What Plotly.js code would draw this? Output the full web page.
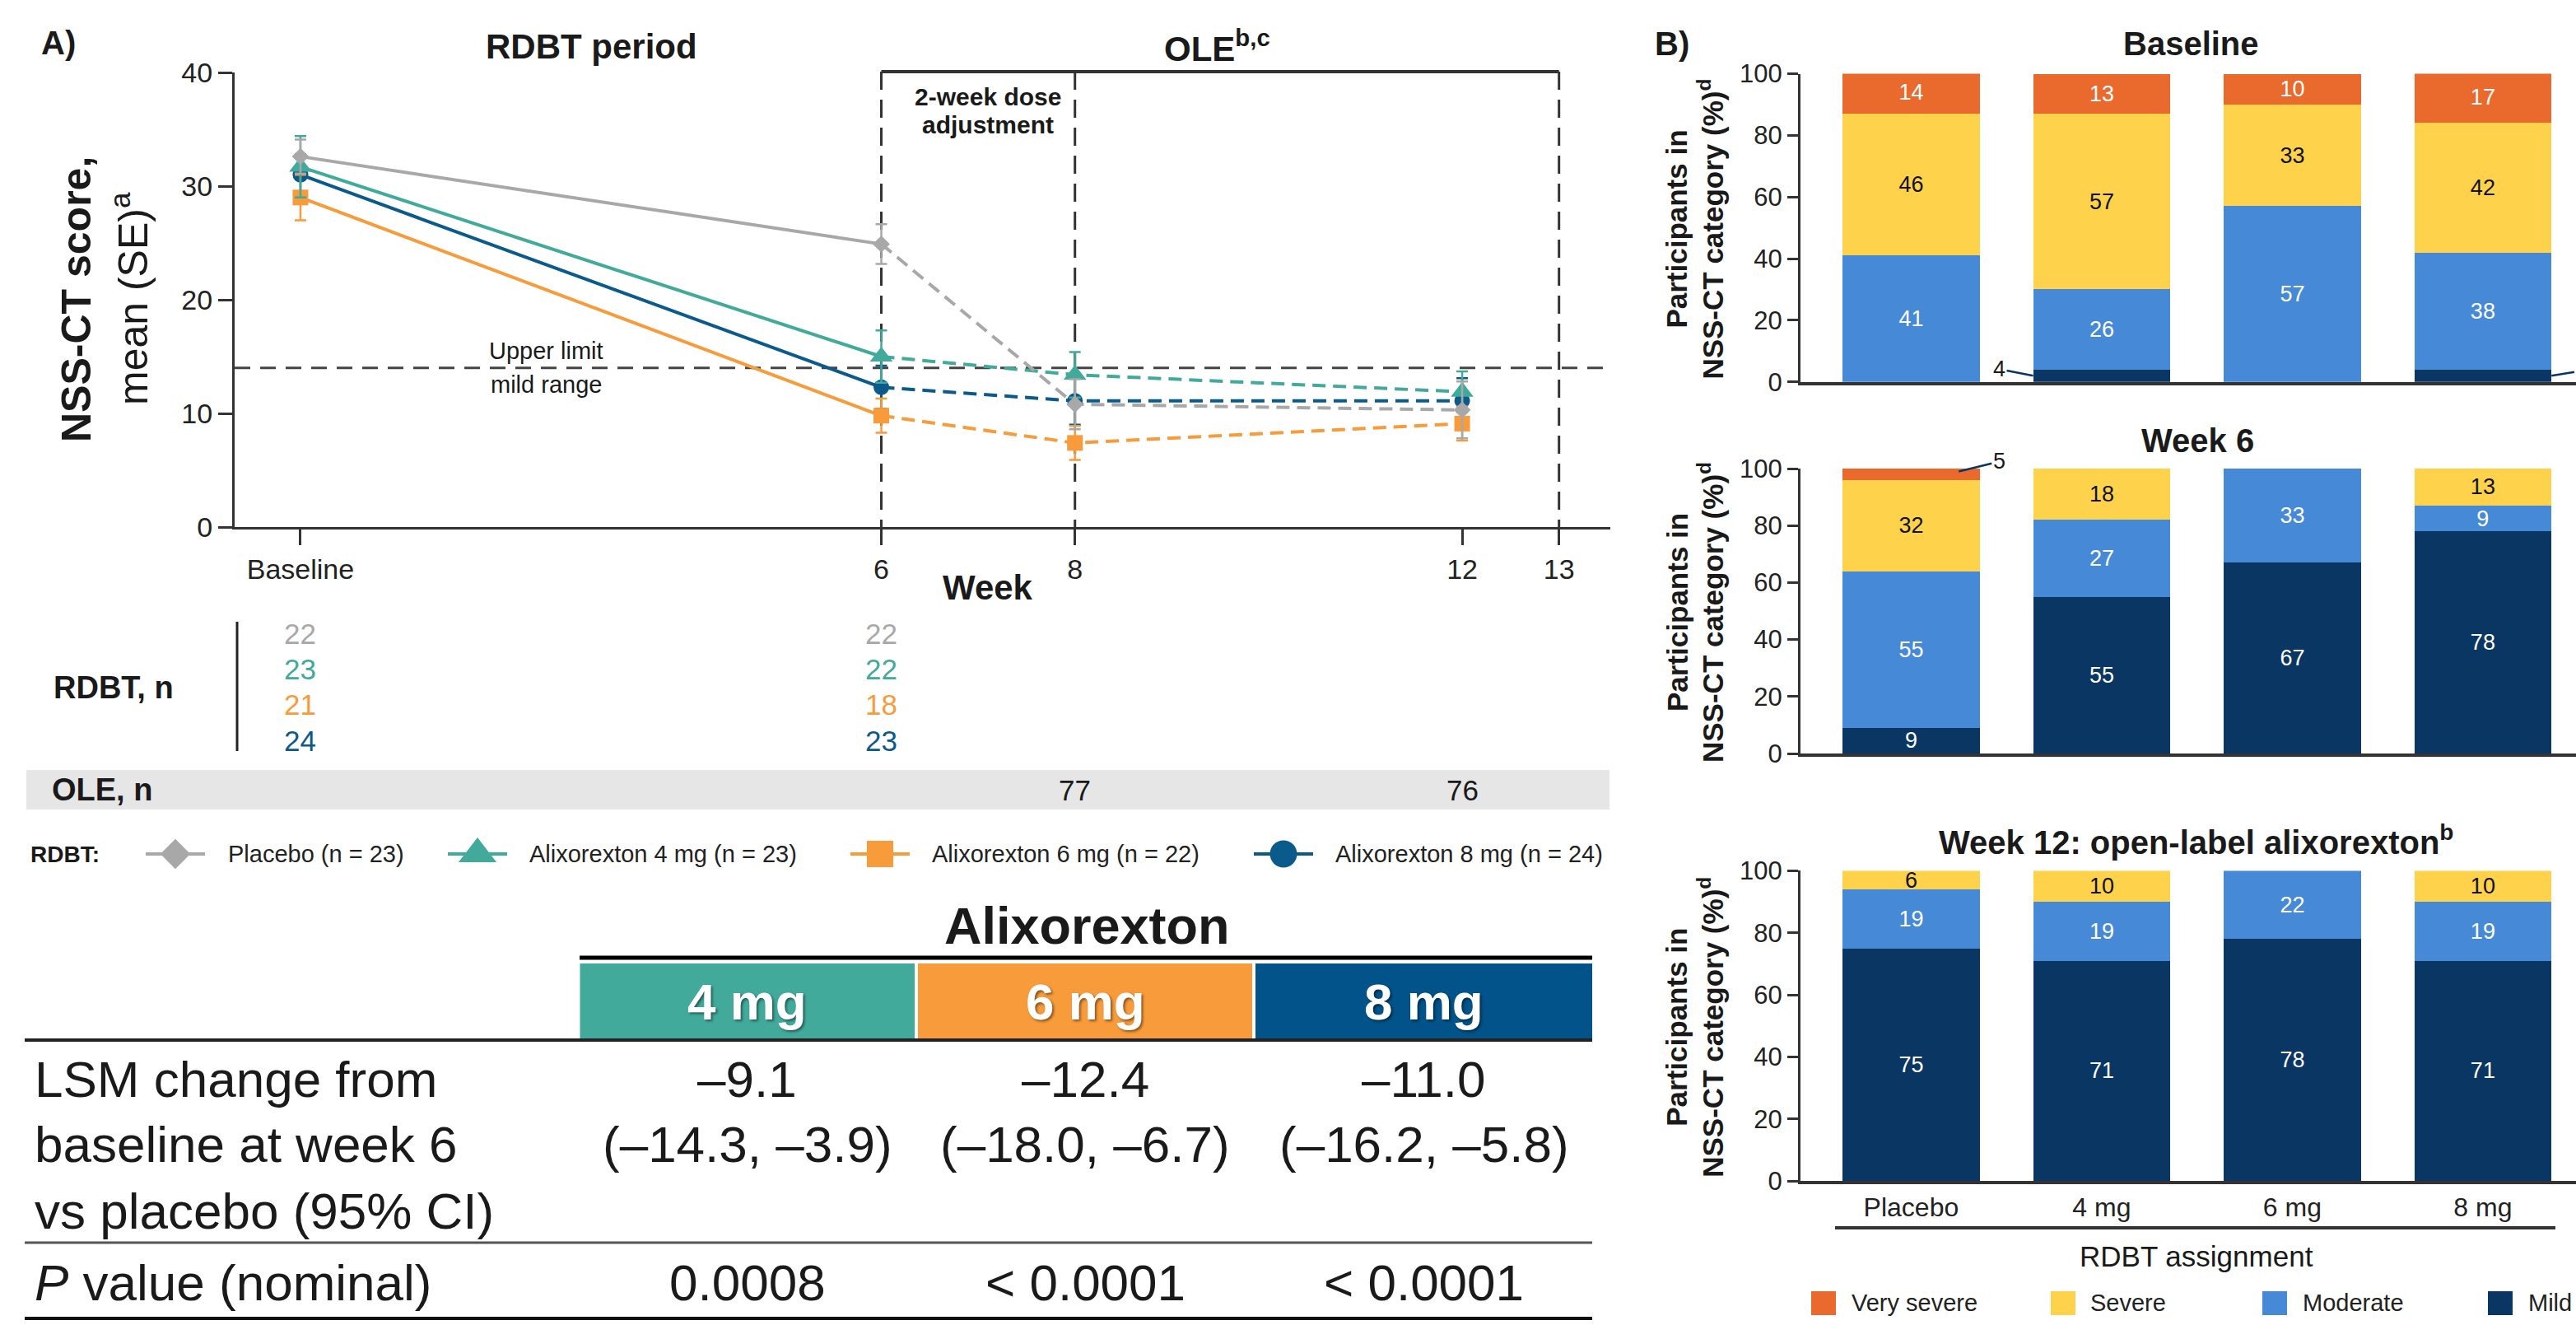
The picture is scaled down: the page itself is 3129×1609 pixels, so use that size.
<!DOCTYPE html>
<html><head><meta charset="utf-8">
<script src="https://cdn.plot.ly/plotly-3.0.1.min.js"></script>
<style>html,body{margin:0;padding:0;background:#fff;} #chart{width:3129px;height:1609px;}</style>
</head><body><div id="chart"></div>
<script>
const W = 3129, H = 1609;
const FONT = 'Liberation Sans, Arial, Helvetica, sans-serif';
const INK = '#1a1a1a';

// ---------- Panel A data ----------
const weeks = [0, 6, 8, 12];
const weekTicks = [0, 6, 8, 12, 13];
const weekTickText = ['Baseline', '6', '8', '12', '13'];
const placeboMean = [32.6, 24.9, 10.8, 10.3];
const placeboSE = [1.5, 1.75, 2.2, 2.5];
const mg4Mean = [31.7, 15.0, 13.4, 11.9];
const mg4SE = [2.7, 2.3, 2.0, 1.8];
const mg6Mean = [29.0, 9.8, 7.4, 9.1];
const mg6SE = [2.0, 1.5, 1.5, 1.5];
const mg8Mean = [31.0, 12.3, 11.1, 11.1];
const mg8SE = [1.8, 1.9, 2.1, 2.0];
const upperLimitMild = 14;
const periodLines = [6, 8, 13];
const oleStart = 6, oleEnd = 13;

const nWeeks = [0, 6];
const nPlacebo = [22, 22];
const n4mg = [23, 22];
const n6mg = [21, 18];
const n8mg = [24, 23];
const oleWeeks = [8, 12];
const oleN = [77, 76];

const seriesNames = ['Placebo (n = 23)', 'Alixorexton 4 mg (n = 23)', 'Alixorexton 6 mg (n = 22)', 'Alixorexton 8 mg (n = 24)'];

// ---------- Table data ----------
const doseLabels = ['4 mg', '6 mg', '8 mg'];
const lsmChange = [-9.1, -12.4, -11.0];
const ciLower = [-14.3, -18.0, -16.2];
const ciUpper = [-3.9, -6.7, -5.8];
const pValues = ['0.0008', '< 0.0001', '< 0.0001'];

// ---------- Panel B data ----------
const groups = ['Placebo', '4 mg', '6 mg', '8 mg'];
const severityNames = ['Very severe', 'Severe', 'Moderate', 'Mild'];
const baseMild = [0, 4, 0, 4];
const baseModerate = [41, 26, 57, 38];
const baseSevere = [46, 57, 33, 42];
const baseVerySevere = [14, 13, 10, 17];
const wk6Mild = [9, 55, 67, 78];
const wk6Moderate = [55, 27, 33, 9];
const wk6Severe = [32, 18, 0, 13];
const wk6VerySevere = [5, 0, 0, 0];
const wk12Mild = [75, 71, 78, 71];
const wk12Moderate = [19, 19, 22, 19];
const wk12Severe = [6, 10, 0, 10];
const wk12VerySevere = [0, 0, 0, 0];

// ---------- colours ----------
const COL = {placebo: '#A8A8A8', mg4: '#41AA9B', mg6: '#F79B3B', mg8: '#0B5A8C'};
const HEAD = ['#41AA9B', '#F79B3B', '#015389'];
const SEV = {verySevere: '#EA692D', severe: '#FED24B', moderate: '#4689D6', mild: '#0A3663'};

const fmt = v => (v < 0 ? '\u2013' : '') + Math.abs(v).toFixed(1);
const MIN_INSIDE = 6;

const traces = [];

// ---------- Panel A traces ----------
const series = [
  {mean: mg8Mean, se: mg8SE, color: COL.mg8, symbol: 'circle', size: 19},
  {mean: mg6Mean, se: mg6SE, color: COL.mg6, symbol: 'square', size: 19},
  {mean: mg4Mean, se: mg4SE, color: COL.mg4, symbol: 'triangle-up', size: 24},
  {mean: placeboMean, se: placeboSE, color: COL.placebo, symbol: 'diamond', size: 16}
];
series.forEach(s => {
  traces.push({type: 'scatter', mode: 'lines', x: weeks.slice(0, 2), y: s.mean.slice(0, 2),
    line: {color: s.color, width: 4}, xaxis: 'x', yaxis: 'y', showlegend: false, hoverinfo: 'skip'});
  traces.push({type: 'scatter', mode: 'lines', x: weeks.slice(1), y: s.mean.slice(1),
    line: {color: s.color, width: 4, dash: '16px,9px'}, xaxis: 'x', yaxis: 'y', showlegend: false, hoverinfo: 'skip'});
});
series.forEach(s => {
  traces.push({type: 'scatter', mode: 'markers', x: weeks, y: s.mean,
    marker: {symbol: s.symbol, size: s.size, color: s.color, line: {width: 0}},
    error_y: {type: 'data', array: s.se, visible: true, color: s.color, thickness: 2.5, width: 7},
    xaxis: 'x', yaxis: 'y', showlegend: false, hoverinfo: 'skip', cliponaxis: false});
});

// ---------- Panel B traces ----------
const periods = [
  {ax: '2', mild: baseMild, moderate: baseModerate, severe: baseSevere, verySevere: baseVerySevere},
  {ax: '3', mild: wk6Mild, moderate: wk6Moderate, severe: wk6Severe, verySevere: wk6VerySevere},
  {ax: '4', mild: wk12Mild, moderate: wk12Moderate, severe: wk12Severe, verySevere: wk12VerySevere}
];
const sevOrder = [
  {key: 'mild', text: '#ffffff'},
  {key: 'moderate', text: '#ffffff'},
  {key: 'severe', text: '#111111'},
  {key: 'verySevere', text: '#ffffff'}
];
periods.forEach(p => sevOrder.forEach(s => {
  const vals = p[s.key];
  traces.push({type: 'bar', x: groups, y: vals, width: 0.72,
    marker: {color: SEV[s.key], line: {width: 0}},
    text: vals.map(v => String(v)),
    textposition: vals.map(v => v >= MIN_INSIDE ? 'inside' : 'none'),
    insidetextanchor: 'middle', textangle: 0,
    textfont: {family: FONT, size: 27, color: s.text},
    xaxis: 'x' + p.ax, yaxis: 'y' + p.ax, showlegend: false, hoverinfo: 'skip'});
}));

// ---------- legend symbols (pixel overlay axis) ----------
const legSymX = [213, 580, 1069, 1559];
const legTextX = [275, 641, 1130, 1620];
const legY = 1037;
const legSeries = [
  {color: COL.placebo, symbol: 'diamond', size: 28},
  {color: COL.mg4, symbol: 'triangle-up', size: 40},
  {color: COL.mg6, symbol: 'square', size: 32},
  {color: COL.mg8, symbol: 'circle', size: 33}
];
legSeries.forEach((s, i) => {
  traces.push({type: 'scatter', mode: 'lines', x: [legSymX[i] - 36, legSymX[i] + 36], y: [legY, legY],
    line: {color: s.color, width: 4}, xaxis: 'x5', yaxis: 'y5', showlegend: false, hoverinfo: 'skip'});
  traces.push({type: 'scatter', mode: 'markers', x: [legSymX[i]], y: [legY],
    marker: {symbol: s.symbol, size: s.size, color: s.color}, xaxis: 'x5', yaxis: 'y5', showlegend: false, hoverinfo: 'skip'});
});

// ---------- annotations & shapes ----------
const annotations = [];
const shapes = [];
function txt(text, x, y, size, opts) {
  opts = opts || {};
  annotations.push(Object.assign({
    text: text, x: x, y: y, xref: opts.xref || 'x5', yref: opts.yref || 'y5', showarrow: false,
    font: {family: FONT, size: size, color: opts.color || INK, shadow: opts.shadow || 'none'},
    xanchor: opts.xanchor || 'center', yanchor: 'middle', textangle: opts.angle || 0
  }, opts.extra || {}));
}
function hline(x0, x1, y, width, color, dash, layer) {
  shapes.push({type: 'line', xref: 'x5', yref: 'y5', x0: x0, x1: x1, y0: y, y1: y,
    line: {color: color, width: width, dash: dash || 'solid'}, layer: layer || 'above'});
}
function rect(x0, x1, y0, y1, fill) {
  shapes.push({type: 'rect', xref: 'x5', yref: 'y5', x0: x0, x1: x1, y0: y0, y1: y1,
    fillcolor: fill, line: {width: 0}, layer: 'below'});
}

// Panel A headers
txt('<b>A)</b>', 71, 52, 40);
txt('<b>RDBT period</b>', 718, 56, 42);
txt('<b>OLE<sup>b,c</sup></b>', 1478, 56, 42);
txt('<b>2-week dose</b>', 1200, 117, 30);
txt('<b>adjustment</b>', 1200, 151, 30);
txt('Upper limit', 663, 426, 29);
txt('mild range', 663, 467, 29);
txt('<b>NSS-CT score,</b>', 93, 364, 50, {angle: -90});
txt('mean (SE)<sup>a</sup>', 158, 363, 50, {angle: -90});
txt('<b>Week</b>', 1200, 713, 42);

// reference lines in panel A
shapes.push({type: 'line', xref: 'x domain', yref: 'y', x0: 0, x1: 1, y0: upperLimitMild, y1: upperLimitMild,
  line: {color: '#444', width: 3, dash: '19px,12px'}, layer: 'below'});
periodLines.forEach(w => shapes.push({type: 'line', xref: 'x', yref: 'y5', x0: w, x1: w, y0: 87, y1: 640,
  line: {color: '#333', width: 3, dash: '22px,12px'}, layer: 'below'}));
shapes.push({type: 'line', xref: 'x', yref: 'y5', x0: oleStart, x1: oleEnd, y0: 87, y1: 87,
  line: {color: '#333', width: 4}, layer: 'above'});

// n table
txt('<b>RDBT, n</b>', 63, 835, 38, {xanchor: 'left'});
shapes.push({type: 'line', xref: 'x5', yref: 'y5', x0: 288, x1: 288, y0: 755, y1: 912, line: {color: '#222', width: 3}});
const nRowsY = [769, 812, 855, 899];
const nRows = [nPlacebo, n4mg, n6mg, n8mg];
const nColors = [COL.placebo, COL.mg4, COL.mg6, COL.mg8];
nRows.forEach((row, r) => row.forEach((n, c) => {
  txt(String(n), nWeeks[c], nRowsY[r], 35, {xref: 'x', color: nColors[r]});
}));
rect(32, 1955, 935, 983, '#E6E6E6');
txt('<b>OLE, n</b>', 61, 959, 38, {xanchor: 'left'});
oleN.forEach((n, i) => txt(String(n), oleWeeks[i], 959, 35, {xref: 'x'}));

// legend A
txt('<b>RDBT:</b>', 35, legY, 28, {xanchor: 'left'});
seriesNames.forEach((nm, i) => txt(nm, legTextX[i], legY, 29, {xanchor: 'left', color: '#222'}));

// comparison table
txt('<b>Alixorexton</b>', 1320, 1124, 63);
hline(704, 1934, 1163, 5, '#000');
const cellX = [[704.5, 1111], [1115, 1521], [1525, 1934]];
cellX.forEach((c, i) => {
  rect(c[0], c[1], 1170, 1261, HEAD[i]);
  const cx = (c[0] + c[1]) / 2;
  txt('<b>' + doseLabels[i] + '</b>', cx, 1216, 62, {color: '#ffffff', shadow: '2px 2px 3px rgba(0,0,0,0.45)'});
  txt(fmt(lsmChange[i]), cx, 1310, 62);
  txt('(' + fmt(ciLower[i]) + ', ' + fmt(ciUpper[i]) + ')', cx, 1389, 62);
  txt(pValues[i], cx, 1557, 62);
});
hline(30, 1934, 1263, 4, '#222');
txt('LSM change from', 40, 1310, 62, {xanchor: 'left'});
txt('baseline at week 6', 40, 1389, 62, {xanchor: 'left'});
txt('vs placebo (95% CI)', 40, 1470, 62, {xanchor: 'left'});
hline(30, 1934, 1509, 3, '#555');
txt('<i>P</i> value (nominal)', 40, 1557, 62, {xanchor: 'left'});
hline(30, 1934, 1601, 4, '#111');

// Panel B headers
txt('<b>B)</b>', 2031, 53, 40);
const bTitles = ['<b>Baseline</b>', '<b>Week 6</b>', '<b>Week 12: open-label alixorexton<sup>b</sup></b>'];
const bTitleY = [53, 535, 1020];
const bTitleX = [2661, 2669, 2667];
const bDom = [[89.5, 463.7], [569, 915], [1057.4, 1434.1]];
bTitles.forEach((t, i) => {
  txt(t, bTitleX[i], bTitleY[i], 40);
  const cy = (bDom[i][0] + bDom[i][1]) / 2 + 2;
  txt('<b>Participants in</b>', 2037, cy, 35, {angle: -90});
  txt('<b>NSS-CT category (%)<sup>d</sup></b>', 2078, cy, 35, {angle: -90});
});
hline(2229, 3104, 1491, 4, '#333');
txt('RDBT assignment', 2668, 1525, 35);
const bLegSq = [2200, 2491, 2748, 3022];
const bLegTx = [2247, 2537, 2795, 3069];
const bLegCol = [SEV.verySevere, SEV.severe, SEV.moderate, SEV.mild];
severityNames.forEach((nm, i) => {
  rect(bLegSq[i], bLegSq[i] + 30, 1568, 1597, bLegCol[i]);
  txt(nm, bLegTx[i], 1582, 29, {xanchor: 'left', color: '#222'});
});

// small-segment callouts (values drawn outside their bars)
const halfBar = 0.36;
annotations.push({text: String(baseMild[1]), x: 1 - halfBar, y: baseMild[1] / 2, xref: 'x2', yref: 'y2',
  showarrow: true, arrowhead: 0, arrowwidth: 2.5, arrowcolor: SEV.mild, ax: -41, ay: -8, standoff: 0,
  font: {family: FONT, size: 27, color: INK}});
// 8 mg baseline callout: its label lies beyond the figure edge in the reference; only the leader line shows
shapes.push({type: 'line', xref: 'x2', yref: 'y2', x0: 3 + halfBar, y0: baseMild[3] / 2,
  x1: 3 + halfBar + 0.12, y1: baseMild[3] / 2 + 1.2, line: {color: SEV.mild, width: 2.5}});
annotations.push({text: String(wk6VerySevere[0]), x: 0.25,
  y: wk6Mild[0] + wk6Moderate[0] + wk6Severe[0] + wk6VerySevere[0] * 0.6, xref: 'x3', yref: 'y3',
  showarrow: true, arrowhead: 0, arrowwidth: 2.5, arrowcolor: SEV.mild, ax: 49, ay: -12, standoff: 0,
  font: {family: FONT, size: 27, color: INK}});

// ---------- layout ----------
const py = y => 1 - y / H;
const tickFont = {family: FONT, size: 34, color: '#222'};
const layout = {
  width: W, height: H, autosize: false,
  margin: {l: 0, r: 0, t: 0, b: 0, pad: 0},
  paper_bgcolor: '#ffffff', plot_bgcolor: 'rgba(0,0,0,0)',
  font: {family: FONT, color: INK},
  showlegend: false,
  barmode: 'stack',
  uniformtext: {mode: 'show', minsize: 27},
  xaxis: {domain: [285 / W, 1956 / W], range: [-0.68, 13.53], anchor: 'y',
    tickvals: weekTicks, ticktext: weekTickText, ticks: 'outside', ticklen: 19, tickwidth: 3, tickcolor: '#333',
    showline: true, linewidth: 3, linecolor: '#333', showgrid: false, zeroline: false, tickfont: tickFont, fixedrange: true},
  yaxis: {domain: [py(640), py(88)], range: [0, 40], anchor: 'x', dtick: 10, tick0: 0,
    ticks: 'outside', ticklen: 17, tickwidth: 3, tickcolor: '#333',
    showline: true, linewidth: 3, linecolor: '#333', showgrid: false, zeroline: false, tickfont: tickFont, fixedrange: true},
  xaxis5: {domain: [0, 1], range: [0, W], anchor: 'y5', visible: false, fixedrange: true},
  yaxis5: {domain: [0, 1], range: [H, 0], anchor: 'x5', visible: false, fixedrange: true},
  annotations: annotations,
  shapes: shapes
};
['2', '3', '4'].forEach((k, i) => {
  layout['xaxis' + k] = {domain: [2187 / W, 1], type: 'category', range: [-0.5806, 3.4886], anchor: 'y' + k,
    showline: true, linewidth: 4, linecolor: '#333', ticks: '', showgrid: false, zeroline: false,
    showticklabels: k === '4', tickfont: {family: FONT, size: 32, color: '#222'}, fixedrange: true};
  layout['yaxis' + k] = {domain: [py(bDom[i][1]), py(bDom[i][0])], range: [0, 100], anchor: 'x' + k,
    tickvals: [0, 20, 40, 60, 80, 100], ticks: 'outside', ticklen: 13, tickwidth: 3, tickcolor: '#333',
    showline: true, linewidth: 3, linecolor: '#333', showgrid: false, zeroline: false,
    tickfont: {family: FONT, size: 31, color: '#222'}, fixedrange: true};
});

Plotly.newPlot('chart', traces, layout, {displayModeBar: false, staticPlot: true});
</script>
</body></html>
